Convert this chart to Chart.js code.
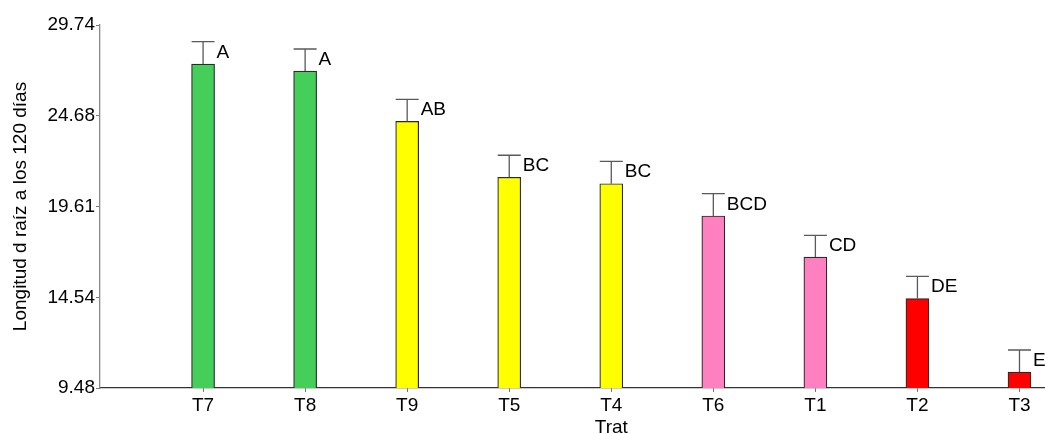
<!DOCTYPE html>
<html>
<head>
<meta charset="utf-8">
<script src="https://cdn.jsdelivr.net/npm/chart.js@4/dist/chart.umd.min.js"></script>
<style>
  html, body { margin: 0; padding: 0; background: #fff; overflow: hidden; }
  #wrap { width: 1045px; height: 434px; position: relative; }
</style>
</head>
<body>
<div id="wrap"><canvas id="c" width="1045" height="434"></canvas></div>
<script>
// Treatments in plotted order
const categories = ['T7', 'T8', 'T9', 'T5', 'T4', 'T6', 'T1', 'T2', 'T3'];
// Mean root length at 120 days
const means = [27.56, 27.17, 24.36, 21.24, 20.88, 19.08, 16.79, 14.47, 10.37];
// Standard error (upper whisker)
const errors = [1.25, 1.23, 1.23, 1.23, 1.25, 1.25, 1.21, 1.24, 1.23];
// Mean-comparison groups
const groups = ['A', 'A', 'AB', 'BC', 'BC', 'BCD', 'CD', 'DE', 'E'];
// Y axis tick values
const yTicks = [9.48, 14.54, 19.61, 24.68, 29.74];
const barColors = ['#45CE5A', '#45CE5A', '#FFFF00', '#FFFF00', '#FFFF00', '#FF80C0', '#FF80C0', '#FF0000', '#FF0000'];

const FONT = "'Liberation Sans', Arial, sans-serif";

const errorAndGroups = {
  id: 'errorAndGroups',
  afterDatasetsDraw(chart) {
    const ctx = chart.ctx;
    const xs = chart.scales.x, ys = chart.scales.y;
    const meta = chart.getDatasetMeta(0);
    ctx.save();
    categories.forEach((c, i) => {
      const bar = meta.data[i];
      const half = bar.width / 2;
      const cx = xs.getPixelForValue(i);
      const yTop = ys.getPixelForValue(means[i]);
      const yErr = ys.getPixelForValue(means[i] + errors[i]);
      ctx.strokeStyle = '#5a5a5a';
      ctx.lineWidth = 1.3;
      ctx.beginPath();
      ctx.moveTo(cx, yTop);
      ctx.lineTo(cx, yErr);
      ctx.moveTo(cx - half, yErr);
      ctx.lineTo(cx + half, yErr);
      ctx.stroke();
      ctx.fillStyle = '#000';
      ctx.font = '19px ' + FONT;
      ctx.textAlign = 'left';
      ctx.textBaseline = 'alphabetic';
      ctx.fillText(groups[i], cx + half + 2, yErr + 16);
    });
    // x axis title, centred under the treatments
    const mid = (xs.getPixelForValue(0) + xs.getPixelForValue(categories.length - 1)) / 2;
    ctx.font = '19px ' + FONT;
    ctx.textAlign = 'center';
    ctx.fillText('Trat', mid, 433);
    ctx.restore();
  }
};

new Chart(document.getElementById('c'), {
  type: 'bar',
  data: {
    datasets: [{
      data: categories.map((c, i) => ({ x: i, y: means[i] })),
      backgroundColor: barColors,
      borderColor: '#2a2a2a',
      borderWidth: 1.2,
      barThickness: 23
    }]
  },
  options: {
    responsive: false,
    animation: false,
    events: [],
    layout: { padding: { top: 25, right: 0, bottom: 0, left: 0 }, autoPadding: false },
    plugins: { legend: { display: false }, tooltip: { enabled: false } },
    scales: {
      x: {
        type: 'linear',
        offset: false,
        min: -1.01,
        max: 8.25,
        afterBuildTicks(s) { s.ticks = categories.map((c, i) => ({ value: i })); },
        afterFit(s) { s.height = 46; },
        ticks: {
          callback: (v) => categories[v] ?? '',
          font: { family: FONT, size: 19 },
          color: '#000',
          padding: 2,
          maxRotation: 0,
          autoSkip: false
        },
        grid: { offset: false, drawOnChartArea: false, tickLength: 4, color: '#777' },
        border: { color: '#333', width: 1.3 }
      },
      y: {
        min: 9.48,
        max: 29.74,
        afterBuildTicks(s) { s.ticks = yTicks.map(v => ({ value: v })); },
        afterFit(s) { s.width = 100; },
        ticks: {
          callback: (v) => Number(v).toFixed(2),
          font: { family: FONT, size: 19 },
          color: '#000',
          padding: 1
        },
        grid: { drawOnChartArea: false, tickLength: 4, color: '#777' },
        border: { color: '#888', width: 1.3 },
        title: {
          display: true,
          text: 'Longitud d raíz a los 120 días',
          font: { family: FONT, size: 19 },
          color: '#000',
          padding: { top: 9, bottom: 0 }
        }
      }
    }
  },
  plugins: [errorAndGroups]
});
</script>
</body>
</html>
